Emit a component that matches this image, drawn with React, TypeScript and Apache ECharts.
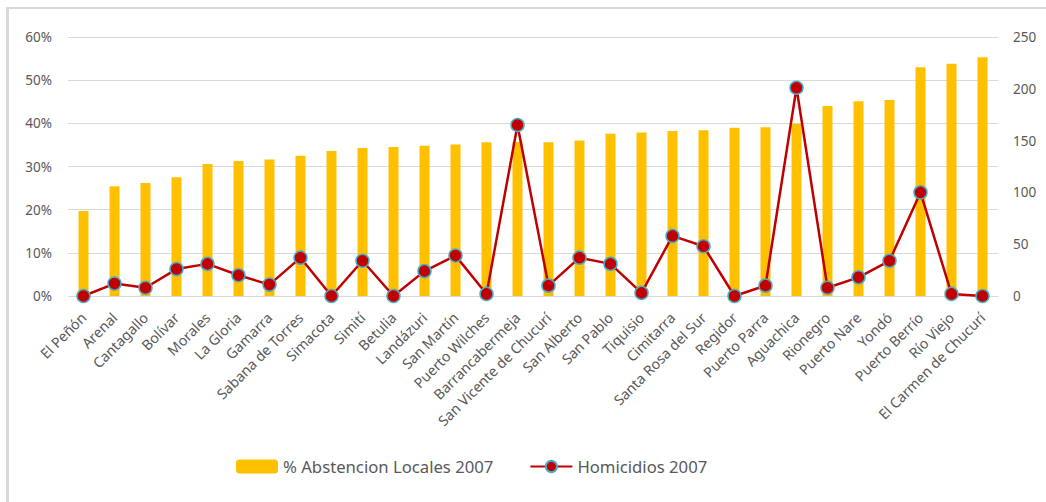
import React, { useEffect, useRef } from "react";
import * as echarts from "echarts";

const municipios = [
  "El Peñón", "Arenal", "Cantagallo", "Bolívar", "Morales", "La Gloria", "Gamarra",
  "Sabana de Torres", "Simacota", "Simití", "Betulia", "Landázuri", "San Martín",
  "Puerto Wilches", "Barrancabermeja", "San Vicente de Chucurí", "San Alberto",
  "San Pablo", "Tiquisio", "Cimitarra", "Santa Rosa del Sur", "Regidor", "Puerto Parra",
  "Aguachica", "Rionegro", "Puerto Nare", "Yondó", "Puerto Berrío", "Río Viejo",
  "El Carmen de Chucurí",
];

// Abstention share in the 2007 local elections (fraction)
const abstencion = [
  0.197, 0.254, 0.262, 0.275, 0.306, 0.313, 0.316, 0.325, 0.336, 0.343, 0.345, 0.348,
  0.351, 0.356, 0.357, 0.356, 0.36, 0.376, 0.379, 0.382, 0.384, 0.39, 0.391, 0.399,
  0.44, 0.451, 0.454, 0.53, 0.538, 0.553,
];

// Homicides recorded in 2007
const homicidios = [
  0, 12, 8, 26, 31, 20, 11, 37, 0, 34, 0, 24, 39, 2, 165, 10, 37, 31, 3, 58, 48, 0, 10,
  201, 8, 18, 34, 100, 2, 0,
];

const pctTicks = { min: 0, max: 0.6, interval: 0.1 };
const countTicks = { min: 0, max: 250, interval: 50 };

const FONT = "'Noto Sans', 'Open Sans', sans-serif";
const TEXT = "#595959";
const GRID = "#D9D9D9";

export default function App() {
  const ref = useRef<HTMLDivElement>(null);

  useEffect(() => {
    if (!ref.current) return;
    const chart = echarts.init(ref.current, undefined, { renderer: "svg" });
    chart.setOption({
      animation: false,
      backgroundColor: "#ffffff",
      textStyle: { fontFamily: FONT },
      graphic: [
        { type: "rect", shape: { x: 6, y: 7, width: 1040, height: 2 }, style: { fill: GRID }, silent: true },
        { type: "rect", shape: { x: 6, y: 7, width: 3, height: 495 }, style: { fill: GRID }, silent: true },
      ],
      grid: { left: 68, right: 48, top: 37, bottom: 206, containLabel: false },
      legend: {
        left: 231,
        top: 453,
        itemWidth: 42,
        itemHeight: 14,
        itemGap: 36,
        textStyle: { color: TEXT, fontSize: 16.7, fontFamily: FONT },
        data: ["% Abstencion Locales 2007", "Homicidios 2007"],
      },
      xAxis: {
        type: "category",
        data: municipios,
        axisLine: { show: true, lineStyle: { color: GRID, width: 1 } },
        axisTick: { show: false },
        axisLabel: {
          rotate: 45,
          interval: 0,
          margin: 19,
          color: TEXT,
          fontSize: 14.2,
          fontFamily: FONT,
        },
      },
      yAxis: [
        {
          type: "value",
          ...pctTicks,
          axisLine: { show: false },
          axisTick: { show: false },
          splitLine: { lineStyle: { color: GRID, width: 1 } },
          axisLabel: {
            color: TEXT,
            fontSize: 13.5,
            margin: 16,
            fontFamily: FONT,
            formatter: (v: number) => `${Math.round(v * 100)}%`,
          },
        },
        {
          type: "value",
          ...countTicks,
          position: "right",
          axisLine: { show: false },
          axisTick: { show: false },
          splitLine: { show: false },
          axisLabel: { color: TEXT, fontSize: 13.5, margin: 15, fontFamily: FONT },
        },
      ],
      series: [
        {
          name: "% Abstencion Locales 2007",
          type: "bar",
          yAxisIndex: 0,
          data: abstencion,
          barWidth: 10,
          itemStyle: { color: "#FFC000" },
          z: 2,
        },
        {
          name: "Homicidios 2007",
          type: "line",
          yAxisIndex: 1,
          data: homicidios,
          symbol: "circle",
          symbolSize: 13,
          lineStyle: { color: "#C00000", width: 2.5 },
          itemStyle: { color: "#C00000", borderColor: "#4BACC6", borderWidth: 1.5 },
          z: 3,
        },
      ],
    });
    return () => chart.dispose();
  }, []);

  return (
    <div
      ref={ref}
      style={{ position: "fixed", left: 0, top: 0, width: 1046, height: 502, background: "#fff" }}
    />
  );
}
